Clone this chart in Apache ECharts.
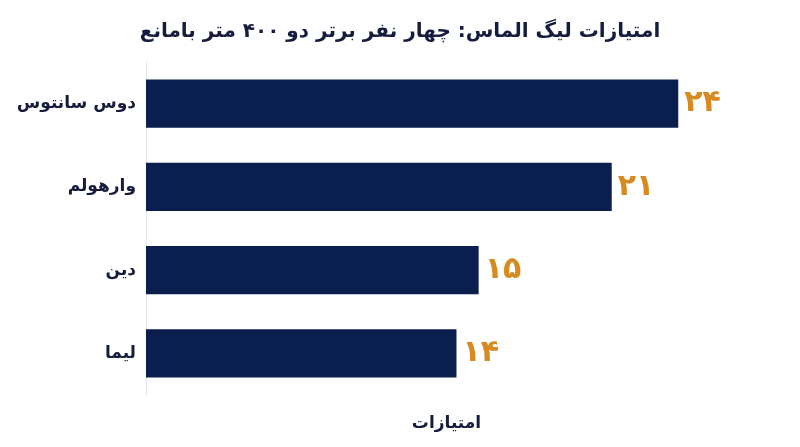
<!DOCTYPE html>
<html>
<head>
<meta charset="utf-8">
<script src="https://cdn.jsdelivr.net/npm/echarts@6/dist/echarts.min.js"></script>
<style>html,body{margin:0;padding:0;background:#fff}#c{width:800px;height:447px}</style>
</head>
<body>
<div id="c"></div>
<script>
const titleText = 'امتیازات لیگ الماس: چهار نفر برتر دو ۴۰۰ متر بامانع';
const categories = ['دوس سانتوس', 'وارهولم', 'دین', 'لیما'];
const points = [24, 21, 15, 14];
const pointLabels = ['۲۴', '۲۱', '۱۵', '۱۴'];
const axisName = 'امتیازات';

const font = '"DejaVu Sans", "Noto Sans", sans-serif';
const chart = echarts.init(document.getElementById('c'));
chart.setOption({
  backgroundColor: '#ffffff',
  animation: false,
  title: {
    text: titleText, left: 'center', top: 17,
    textStyle: { fontFamily: font, fontSize: 20, fontWeight: 'bold', color: '#151c3e' }
  },
  grid: { left: 146, right: 53, top: 62, bottom: 52 },
  xAxis: {
    type: 'value', min: 0, max: 27.1,
    name: axisName, nameLocation: 'middle', nameGap: 20,
    nameTextStyle: { fontFamily: font, fontSize: 17, fontWeight: 'bold', color: '#151c3e' },
    axisLabel: { show: false }, axisTick: { show: false }, axisLine: { show: false },
    splitLine: { show: false }
  },
  yAxis: {
    type: 'category', inverse: true, data: categories,
    axisLine: { show: true, lineStyle: { color: '#e4e6ea', width: 1 } },
    axisTick: { show: false },
    axisLabel: { fontFamily: font, fontSize: 17, fontWeight: 'bold', color: '#151c3e', margin: 10 }
  },
  series: [{
    type: 'bar', data: points, barCategoryGap: '42%',
    itemStyle: { color: '#0b1f4f' },
    label: {
      show: true, position: 'right', distance: 6,
      formatter: p => pointLabels[p.dataIndex],
      fontFamily: font, fontSize: 30, fontWeight: 'bold', color: '#d68a1f'
    }
  }]
});
</script>
</body>
</html>
